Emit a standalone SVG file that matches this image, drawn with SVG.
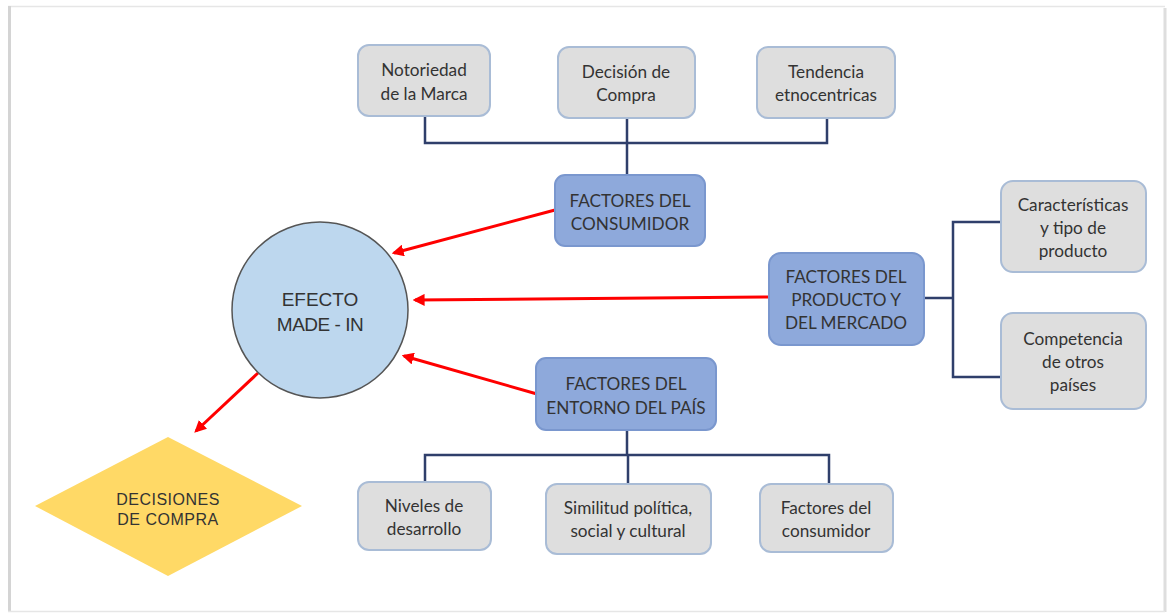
<svg xmlns="http://www.w3.org/2000/svg" width="1167" height="613" viewBox="0 0 1167 613">
<style>
.g{fill:#DEDEDE;stroke:#A9BCD6;stroke-width:2}
.b{fill:#8EA9DB;stroke:#7A97CE;stroke-width:2}
.t{font-family:Lato,"Liberation Sans",sans-serif;font-size:17.2px;fill:#333;text-anchor:middle}
.a{font-family:"Liberation Sans",Arial,sans-serif;fill:#333;text-anchor:middle}
.c{fill:none;stroke:#2F3F6B;stroke-width:2.5}
.r{fill:none;stroke:#FF0000;stroke-width:3;marker-end:url(#ah)}
</style>
<defs>
<marker id="ah" viewBox="0 0 10 10" refX="8" refY="5" markerWidth="4" markerHeight="4" orient="auto" markerUnits="strokeWidth">
<path d="M0,0 L10,5 L0,10 z" fill="#FF0000"/>
</marker>
</defs>
<rect width="1167" height="613" fill="#fff"/>
<g id="frame">
<line x1="8" y1="6.5" x2="1165" y2="6.5" stroke="#e6e6e6" stroke-width="1.5"/>
<line x1="9.5" y1="6" x2="9.5" y2="612" stroke="#d4d4d4" stroke-width="3"/>
<line x1="1165" y1="8" x2="1165" y2="612" stroke="#dedede" stroke-width="3"/>
<line x1="8" y1="611.5" x2="1165" y2="611.5" stroke="#e6e6e6" stroke-width="1.5"/>
</g>
<g id="connectors">
<path class="c" d="M425,116 V143 H827 V118 M627,118 V175"/>
<path class="c" d="M627,430 V455 M425,482 V455 H829 V484 M628,455 V484"/>
<path class="c" d="M924,298 H953 M1001,222 H953 V377 H1001"/>
<line class="r" x1="555" y1="210" x2="394" y2="253"/>
<line class="r" x1="769" y1="297" x2="415" y2="300"/>
<line class="r" x1="537" y1="394" x2="404" y2="356"/>
<line class="r" x1="258" y1="373" x2="196" y2="431"/>
</g>
<g id="notoriedad">
<rect class="g" x="358" y="45" width="132" height="71" rx="11"/>
<text class="t" x="424" y="76">Notoriedad</text>
<text class="t" x="424" y="100">de la Marca</text>
</g>
<g id="decision">
<rect class="g" x="558" y="47" width="137" height="71" rx="11"/>
<text class="t" x="626" y="78">Decisión de</text>
<text class="t" x="626" y="101">Compra</text>
</g>
<g id="tendencia">
<rect class="g" x="757" y="47" width="138" height="71" rx="11"/>
<text class="t" x="826" y="78">Tendencia</text>
<text class="t" x="826" y="101">etnocentricas</text>
</g>
<g id="consumidor">
<rect class="b" x="555" y="175" width="150" height="71" rx="10"/>
<text class="t" x="630" y="207">FACTORES DEL</text>
<text class="t" x="630" y="230">CONSUMIDOR</text>
</g>
<g id="efecto">
<circle cx="320" cy="310" r="88" fill="#BDD7EE" stroke="#555" stroke-width="1.5"/>
<text class="a" x="320" y="306" font-size="19">EFECTO</text>
<text class="a" x="320" y="331" font-size="19" letter-spacing="-0.5">MADE - IN</text>
</g>
<g id="decisiones">
<polygon points="168,437 302,506 168,576 35,506" fill="#FFD966"/>
<text class="a" x="168" y="505" font-size="16" letter-spacing="0.5">DECISIONES</text>
<text class="a" x="168" y="525" font-size="16" letter-spacing="0.5">DE COMPRA</text>
</g>
<g id="producto">
<rect class="b" x="769" y="253" width="155" height="92" rx="12"/>
<text class="t" x="846" y="283">FACTORES DEL</text>
<text class="t" x="846" y="306">PRODUCTO Y</text>
<text class="t" x="846" y="329">DEL MERCADO</text>
</g>
<g id="caracteristicas">
<rect class="g" x="1001" y="181" width="145" height="91" rx="12"/>
<text class="t" x="1073" y="211">Características</text>
<text class="t" x="1073" y="234">y tipo de</text>
<text class="t" x="1073" y="257">producto</text>
</g>
<g id="competencia">
<rect class="g" x="1001" y="313" width="145" height="96" rx="12"/>
<text class="t" x="1073" y="345">Competencia</text>
<text class="t" x="1073" y="368">de otros</text>
<text class="t" x="1073" y="391">países</text>
</g>
<g id="entorno">
<rect class="b" x="536" y="358" width="180" height="72" rx="10"/>
<text class="t" x="626" y="390">FACTORES DEL</text>
<text class="t" x="626" y="414">ENTORNO DEL PAÍS</text>
</g>
<g id="niveles">
<rect class="g" x="358" y="482" width="133" height="68" rx="11"/>
<text class="t" x="424" y="512">Niveles de</text>
<text class="t" x="424" y="535">desarrollo</text>
</g>
<g id="similitud">
<rect class="g" x="546" y="484" width="165" height="70" rx="11"/>
<text class="t" x="628" y="514">Similitud política,</text>
<text class="t" x="628" y="537">social y cultural</text>
</g>
<g id="factores-consumidor">
<rect class="g" x="760" y="484" width="133" height="68" rx="11"/>
<text class="t" x="826" y="514">Factores del</text>
<text class="t" x="826" y="537">consumidor</text>
</g>
</svg>
